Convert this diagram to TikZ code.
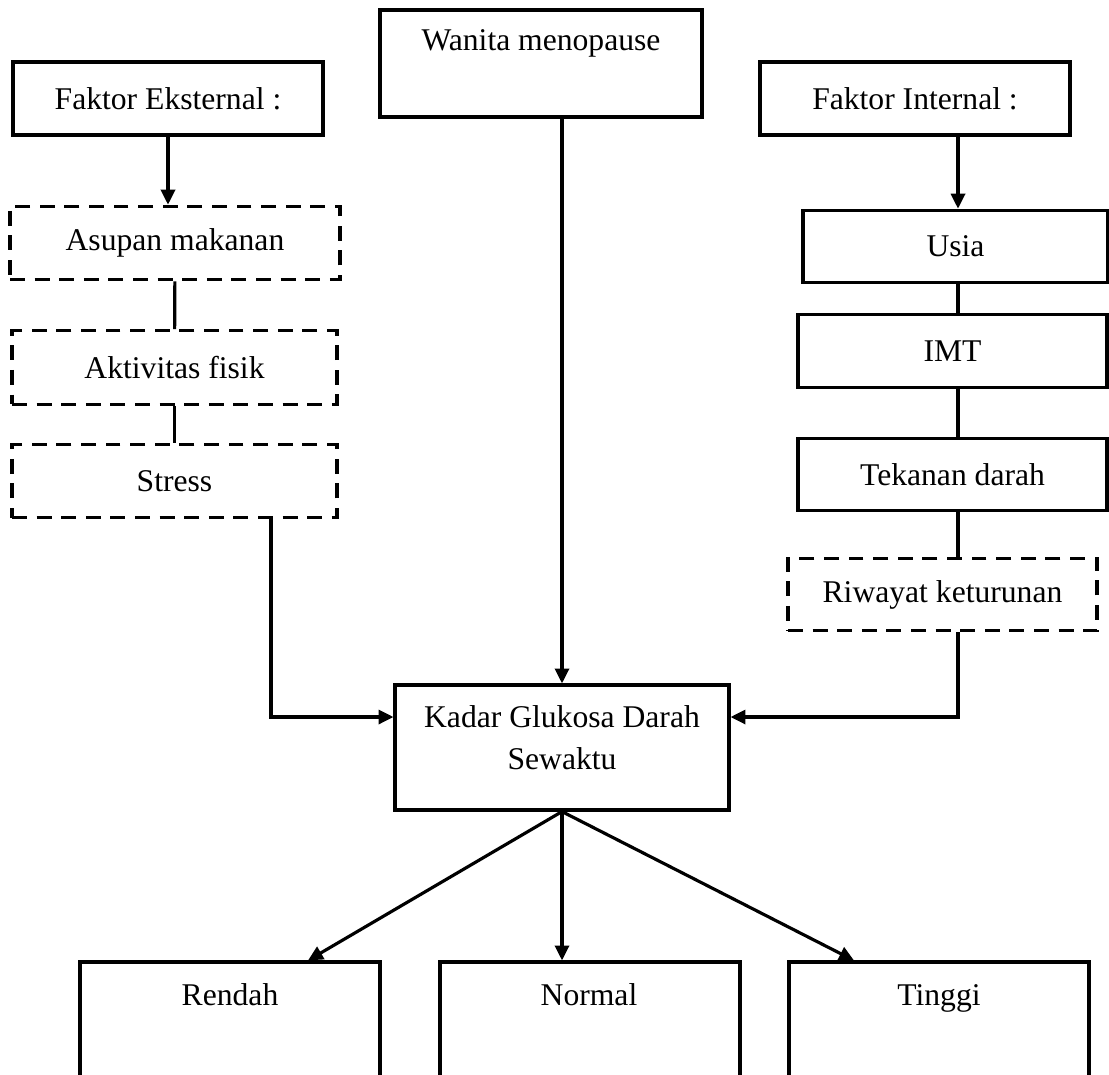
\documentclass[tikz,border=0pt]{standalone}
\usepackage{fontspec}
\setmainfont{Liberation Serif}
\usetikzlibrary{arrows.meta,positioning}

\begin{document}
\begin{tikzpicture}[x=0.02cm,y=-0.02cm,
    line width=1.8pt,
    >={Triangle[length=8.5pt,width=8pt]},
    font=\fontsize{18}{24}\selectfont,
    box/.style={draw,rectangle,inner sep=2pt},
    dbox/.style={box,dash pattern=on 8.5pt off 5.5pt}]

      \useasboundingbox (0,0) rectangle (1109,1075);
      \clip (0,0) rectangle (1109,1075);

      % top row
      \node[box,minimum width=6.2cm,minimum height=1.46cm]  (faktoreks) at (168,98.5) {Faktor Eksternal :};
      \node[box,minimum width=6.44cm,minimum height=2.14cm] (wanita)    at (541,63.5) {};
      \node (wanitalbl) at (541,43) {Wanita menopause};
      \node[box,minimum width=6.2cm,minimum height=1.46cm]  (faktorint) at (915,98.5) {Faktor Internal :};

      % external factors
      \begin{scope}[every node/.style={dbox,minimum height=1.47cm}]
        \node[minimum width=6.6cm] (asupan)    at (175,243)   {Asupan makanan};
        \node[minimum width=6.5cm] (aktivitas) at (174.5,367.5) {Aktivitas fisik};
        \node[minimum width=6.5cm] (stress)    at (174.5,481) {Stress};
      \end{scope}

      % internal factors
      \begin{scope}[every node/.style={box,minimum height=1.45cm}]
        \node[minimum width=6.1cm]  (usia)    at (955.5,246.5) {Usia};
        \node[minimum width=6.18cm] (imt)     at (952.5,351)   {IMT};
        \node[minimum width=6.18cm] (tekanan) at (952.5,474.5) {Tekanan darah};
        \node[dbox,minimum width=6.18cm] (riwayat) at (942.5,594.5) {Riwayat keturunan};
      \end{scope}

      % outcome
      \node[box,minimum width=6.68cm,minimum height=2.5cm] (kadar) at (562,747.5) {};
      \node[align=center] (kadarlbl) at (562,738) {Kadar Glukosa Darah\\Sewaktu};

      \begin{scope}[every node/.style={box,minimum width=6cm,minimum height=3cm}]
        \node (rendah) at (230,1037) {};
        \node (normal) at (590,1037) {};
        \node (tinggi) at (939,1037) {};
      \end{scope}
      \begin{scope}[every node/.style={anchor=base}]
        \node (rendahlbl) at (230,1005) {Rendah};
        \node (normallbl) at (589,1005) {Normal};
        \node (tinggilbl) at (939,1005) {Tinggi};
      \end{scope}

      \coordinate (ekscorner) at (271,717);
      \coordinate (intcorner) at (958,717);

      % connectors
      \draw[->] (faktoreks.south) -- (faktoreks.south |- asupan.north);
      \draw (asupan) -- (aktivitas);
      \draw (aktivitas) -- (stress);
      \draw[->] (stress.south -| ekscorner) -- (ekscorner) -- (ekscorner -| kadar.west);

      \draw[->] (faktorint.south -| intcorner) -- (usia.north -| intcorner);
      \draw (usia.south -| intcorner) -- (imt.north -| intcorner);
      \draw (imt.south -| intcorner) -- (tekanan.north -| intcorner);
      \draw (tekanan.south -| intcorner) -- (riwayat.north -| intcorner);
      \draw[->] (riwayat.south -| intcorner) -- (intcorner) -- (intcorner -| kadar.east);

      \draw[->] (wanita.south -| kadar.north) -- (kadar.north);
      \draw[->] (kadar.south) -- ([xshift=1.56cm]rendah.north);
      \draw[->] (kadar.south) -- (kadar.south |- normal.north);
      \draw[->] (kadar.south) -- ([xshift=-1.7cm]tinggi.north);

\end{tikzpicture}
\end{document}
